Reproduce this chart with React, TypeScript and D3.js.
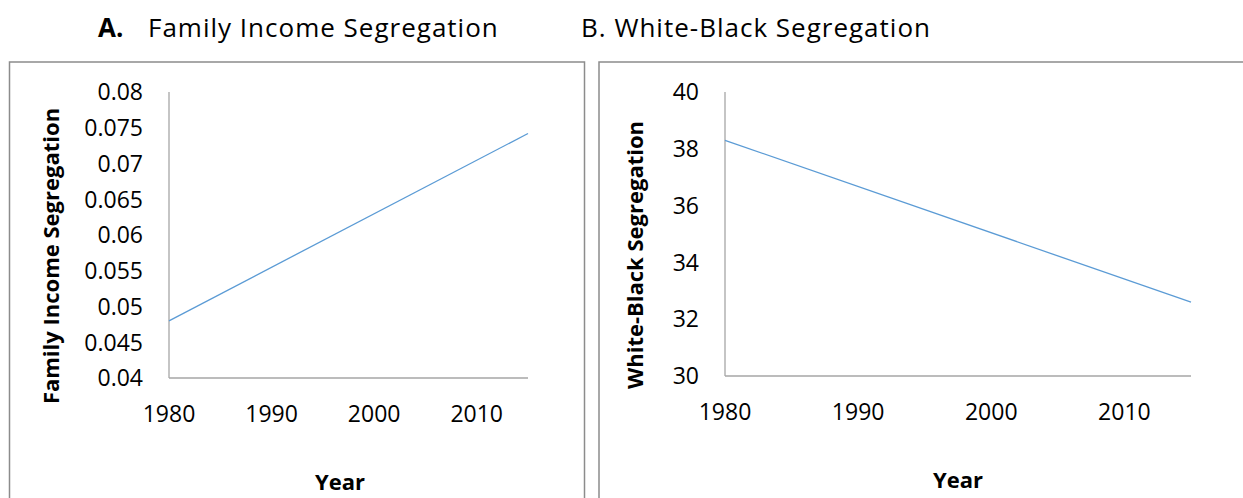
import React from "react";
import * as d3 from "d3";

// data
const years = [1980, 2015];
const incomeSeg = [0.048, 0.0742];
const whiteBlackSeg = [38.3, 32.6];
const yearTicks = [1980, 1990, 2000, 2010];
const incomeTicks = [0.04, 0.045, 0.05, 0.055, 0.06, 0.065, 0.07, 0.075, 0.08];
const wbTicks = [30, 32, 34, 36, 38, 40];

const FONT = "'Open Sans', 'Noto Sans', sans-serif";
const LINE_BLUE = "#5b9bd5";
const AXIS_GRAY = "#a6a6a6";
const BORDER_GRAY = "#8c8c8c";

type PanelProps = {
  box: { x: number; y: number; w: number; h: number };
  plot: { left: number; right: number; top: number; bottom: number };
  values: number[];
  yDomain: [number, number];
  yTicks: number[];
  yTitle: string;
  yTitleX: number;
  yearX: number;
  yearY: number;
};

const Panel = ({ box, plot, values, yDomain, yTicks, yTitle, yTitleX, yearX, yearY }: PanelProps) => {
  const x = d3.scaleLinear().domain([1980, 2015]).range([plot.left, plot.right]);
  const y = d3.scaleLinear().domain(yDomain).range([plot.bottom, plot.top]);
  const line = d3
    .line<number>()
    .x((_, i) => x(years[i]))
    .y((d) => y(d));
  // the rotated title sits a bit below the middle of the plot
  const titleY = (plot.top + plot.bottom) / 2 + 21;

  return (
    <g>
      <rect x={box.x} y={box.y} width={box.w} height={box.h} fill="none" stroke={BORDER_GRAY} strokeWidth={1.5} />
      {/* axes, no tick marks */}
      <line x1={plot.left} x2={plot.left} y1={plot.top} y2={plot.bottom} stroke={AXIS_GRAY} strokeWidth={1.3} />
      <line x1={plot.left} x2={plot.right} y1={plot.bottom} y2={plot.bottom} stroke={AXIS_GRAY} strokeWidth={1.3} />
      {yTicks.map((t) => (
        <text key={t} x={plot.left - 26} y={y(t)} dy="0.36em" textAnchor="end" fontSize={23} fill="#000">
          {t}
        </text>
      ))}
      {yearTicks.map((t) => (
        <text key={t} x={x(t)} y={plot.bottom + 44} textAnchor="middle" fontSize={23} fill="#000">
          {t}
        </text>
      ))}
      <path d={line(values) ?? ""} fill="none" stroke={LINE_BLUE} strokeWidth={1.3} />
      <text
        transform={`translate(${yTitleX},${titleY}) rotate(-90)`}
        textAnchor="middle"
        fontSize={22}
        fontWeight="bold"
        fill="#000"
      >
        {yTitle}
      </text>
      <text x={yearX} y={yearY} textAnchor="middle" fontSize={22} fontWeight="bold" fill="#000">
        Year
      </text>
    </g>
  );
};

export default function App() {
  return (
    <svg
      width={1243}
      height={498}
      style={{ position: "absolute", left: 0, top: 0, background: "#fff" }}
      fontFamily={FONT}
    >
      <text x={98} y={37} fontSize={26} fill="#000">
        <tspan fontWeight="bold">A.</tspan>
        <tspan x={148} letterSpacing={1}>Family Income Segregation</tspan>
      </text>
      <text x={581} y={37} fontSize={26} fill="#000" letterSpacing={1}>
        B. White-Black Segregation
      </text>
      <Panel
        box={{ x: 9.5, y: 62, w: 575, h: 460 }}
        plot={{ left: 169, right: 528, top: 92, bottom: 378 }}
        values={incomeSeg}
        yDomain={[0.04, 0.08]}
        yTicks={incomeTicks}
        yTitle="Family Income Segregation"
        yTitleX={59}
        yearX={340}
        yearY={490}
      />
      <Panel
        box={{ x: 599, y: 62, w: 660, h: 460 }}
        plot={{ left: 725, right: 1191, top: 92, bottom: 376 }}
        values={whiteBlackSeg}
        yDomain={[30, 40]}
        yTicks={wbTicks}
        yTitle="White-Black Segregation"
        yTitleX={643}
        yearX={958}
        yearY={488}
      />
    </svg>
  );
}
